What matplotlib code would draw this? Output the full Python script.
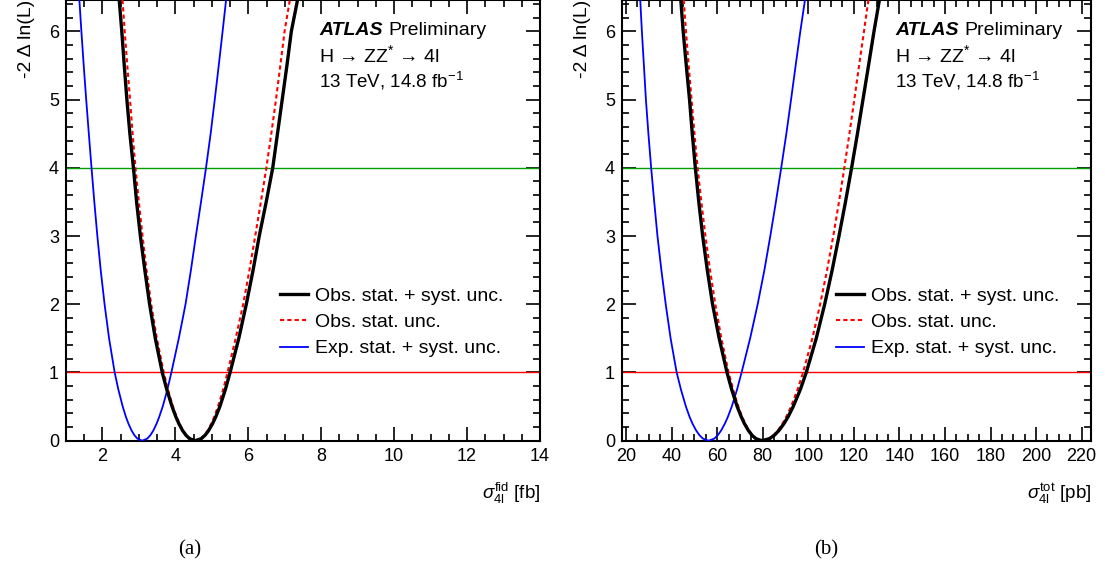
import matplotlib
matplotlib.use("Agg")
import matplotlib.pyplot as plt
from matplotlib.ticker import MultipleLocator

plt.rcParams['font.family'] = ['Liberation Sans', 'DejaVu Sans']
plt.rcParams['mathtext.fontset'] = 'custom'
plt.rcParams['mathtext.rm'] = 'Liberation Sans'
plt.rcParams['mathtext.it'] = 'Liberation Sans:italic'
plt.rcParams['mathtext.sf'] = 'Liberation Sans'

# ---------------- data ----------------
# -2 Delta ln(L) values at which the curves were read (left branch down, minimum, right branch up)
nll_levels = [6.46, 6.0, 5.5, 5.0, 4.5, 4.0, 3.5, 3.0, 2.5, 2.0, 1.5, 1.0, 0.75, 0.5, 0.35, 0.25, 0.15, 0.08, 0.03,
              0.0,
              0.03, 0.08, 0.15, 0.25, 0.35, 0.5, 0.75, 1.0, 1.5, 2.0, 2.5, 3.0, 3.5, 4.0, 4.5, 5.0, 5.5, 6.0, 6.46]

# panel (a): fiducial cross section [fb]
fid_obs_full = [2.46, 2.53, 2.598, 2.67, 2.752, 2.85, 2.936, 3.04, 3.162, 3.293, 3.449, 3.64, 3.764, 3.909,
                4.013, 4.095, 4.196, 4.29, 4.389,
                4.545,
                4.71, 4.814, 4.913, 5.02, 5.108, 5.219, 5.371, 5.50, 5.739, 5.945, 6.131, 6.30, 6.491, 6.67,
                6.80, 6.93, 7.059, 7.18, 7.35]
fid_obs_stat = [2.55, 2.61, 2.681, 2.756, 2.827, 2.905, 2.998, 3.099, 3.209, 3.336, 3.492, 3.68, 3.796, 3.933,
                4.033, 4.1125, 4.21, 4.30, 4.395,
                4.545,
                4.697, 4.794, 4.886, 4.985, 5.066, 5.167, 5.31, 5.43, 5.653, 5.86, 6.031, 6.19, 6.345, 6.495,
                6.63, 6.759, 6.878, 6.995, 7.138]
fid_exp_full = [1.367, 1.422, 1.486, 1.554, 1.626, 1.70, 1.777, 1.86, 1.952, 2.058, 2.181, 2.335, 2.436, 2.556,
                2.643, 2.7125, 2.798, 2.8765, 2.959,
                3.09,
                3.227, 3.313, 3.396, 3.485, 3.557, 3.652, 3.781, 3.89, 4.094, 4.278, 4.426, 4.562, 4.703, 4.84,
                4.967, 5.08, 5.189, 5.295, 5.39]

# panel (b): total cross section [pb]
tot_obs_full = [44.02, 45.06, 46.42, 47.85, 49.05, 50.4, 51.91, 53.62, 55.65, 57.96, 60.86, 64.3, 66.35, 68.78,
                70.55, 71.95, 73.67, 75.27, 76.95,
                79.6,
                82.96, 85.09, 87.11, 89.3, 91.11, 93.35, 96.49, 99.1, 103.48, 107.18, 110.46, 113.46, 116.31,
                119.0, 121.56, 123.99, 126.43, 128.83, 131.2]
tot_obs_stat = [45.29, 46.29, 47.47, 48.74, 50.01, 51.4, 53.03, 54.83, 56.86, 59.16, 61.82, 65.0, 66.96, 69.28,
                70.96, 72.3, 73.95, 75.47, 77.07,
                79.6,
                82.74, 84.72, 86.61, 88.65, 90.31, 92.4, 95.27, 97.7, 101.77, 105.2, 108.22, 110.95, 113.46,
                115.8, 118.04, 120.19, 122.28, 124.43, 126.37]
tot_exp_full = [26.21, 26.93, 27.82, 28.7, 29.79, 31.0, 32.35, 33.77, 35.49, 37.39, 39.54, 42.2, 44.08, 46.27,
                47.86, 49.15, 50.74, 52.21, 53.76,
                56.2,
                58.68, 60.24, 61.74, 63.35, 64.69, 66.38, 68.71, 70.7, 74.45, 77.77, 80.71, 83.31, 85.76,
                88.1, 90.35, 92.42, 94.43, 96.49, 98.52]

ref_levels = [1.0, 4.0]
legend_labels = ["Obs. stat. + syst. unc.", "Obs. stat. unc.", "Exp. stat. + syst. unc."]
xlabels = [r"$\sigma^{\mathrm{fid}}_{\mathrm{4l}}$ [fb]", r"$\sigma^{\mathrm{tot}}_{\mathrm{4l}}$ [pb]"]
captions = ["(a)", "(b)"]

# ---------------- figure ----------------
W, H = 1105, 569
fig = plt.figure(figsize=(W / 100, H / 100), dpi=100)

def frac(x0, x1, ybot, ytop):
    return [x0 / W, 1 - ybot / H, (x1 - x0) / W, (ybot - ytop) / H]

axA = fig.add_axes(frac(66, 540, 440.7, 0))
axB = fig.add_axes(frac(622, 1091, 440.7, 0))

panels = [
    (axA, fid_obs_full, fid_obs_stat, fid_exp_full, (1, 14), 2, 0.5, 319, 280),
    (axB, tot_obs_full, tot_obs_stat, tot_exp_full, (18.2, 224.1), 20, 5, 895, 836),
]

for i, (ax, obs, stat, exp, xlim, maj, mnr, txt_x, leg_x) in enumerate(panels):
    ax.plot(exp, nll_levels, color='#0000ff', lw=1.3, label=legend_labels[2], zorder=3,
            solid_joinstyle='round')
    ax.plot(stat, nll_levels, color='#ff0000', lw=1.5, dashes=(2.0, 1.5), label=legend_labels[1], zorder=4)
    ax.plot(obs, nll_levels, color='black', lw=2.4, label=legend_labels[0], zorder=5,
            solid_joinstyle='round')
    ax.axhline(ref_levels[0], color='#ff0000', lw=1.0, zorder=2)
    ax.axhline(ref_levels[1], color='#00a000', lw=1.0, zorder=2)

    ax.set_xlim(*xlim)
    ax.set_ylim(0, 6.46)
    ax.xaxis.set_major_locator(MultipleLocator(maj))
    ax.xaxis.set_minor_locator(MultipleLocator(mnr))
    ax.yaxis.set_major_locator(MultipleLocator(1))
    ax.yaxis.set_minor_locator(MultipleLocator(0.2))
    ax.tick_params(which='both', direction='in', top=True, right=True, width=1.2,
                   labelsize=13, pad=5)
    ax.tick_params(which='major', length=10)
    ax.tick_params(which='minor', length=5)
    for s in ax.spines.values():
        s.set_linewidth(1.5)

    ax.set_ylabel("-2 Δ ln(L)", fontsize=14, loc='top', labelpad=10)
    ax.set_xlabel(xlabels[i], fontsize=13.5, loc='right', labelpad=12)

    # legend
    h, l = ax.get_legend_handles_labels()
    order = [2, 1, 0]
    ax.legend([h[k] for k in order], [l[k] for k in order], frameon=False, fontsize=14,
              loc='upper left', bbox_to_anchor=(leg_x / W, 1 - 287 / H),
              bbox_transform=fig.transFigure,
              handlelength=1.45, handletextpad=0.37, labelspacing=0.45, borderpad=0, borderaxespad=0)

    # ATLAS label
    x0 = 66 if i == 0 else 622
    wpx = 474 if i == 0 else 469
    tx = (txt_x - x0) / wpx
    t1 = ax.text(tx, 1 - 35 / 440.7, "ATLAS", transform=ax.transAxes, fontsize=14,
                 fontweight='bold', fontstyle='italic', va='baseline')
    fig.canvas.draw()
    bb = t1.get_window_extent()
    inv = ax.transAxes.inverted()
    xe = inv.transform((bb.x1, bb.y0))[0]
    ax.text(xe + 0.012, 1 - 35 / 440.7, "Preliminary", transform=ax.transAxes,
            fontsize=14, va='baseline')
    ax.text(tx, 1 - 62 / 440.7, "H → ZZ$^{*}$ → 4l", transform=ax.transAxes,
            fontsize=14, va='baseline')
    ax.text(tx, 1 - 87 / 440.7, r"13 TeV, 14.8 fb$^{\mathrm{-1}}$", transform=ax.transAxes,
            fontsize=13.5, va='baseline')

fig.text(190 / W, 1 - 550 / H, captions[0], fontsize=15, family='Liberation Serif', ha='center', va='center')
fig.text(826 / W, 1 - 550 / H, captions[1], fontsize=15, family='Liberation Serif', ha='center', va='center')

fig.savefig("out.png", dpi=100)
